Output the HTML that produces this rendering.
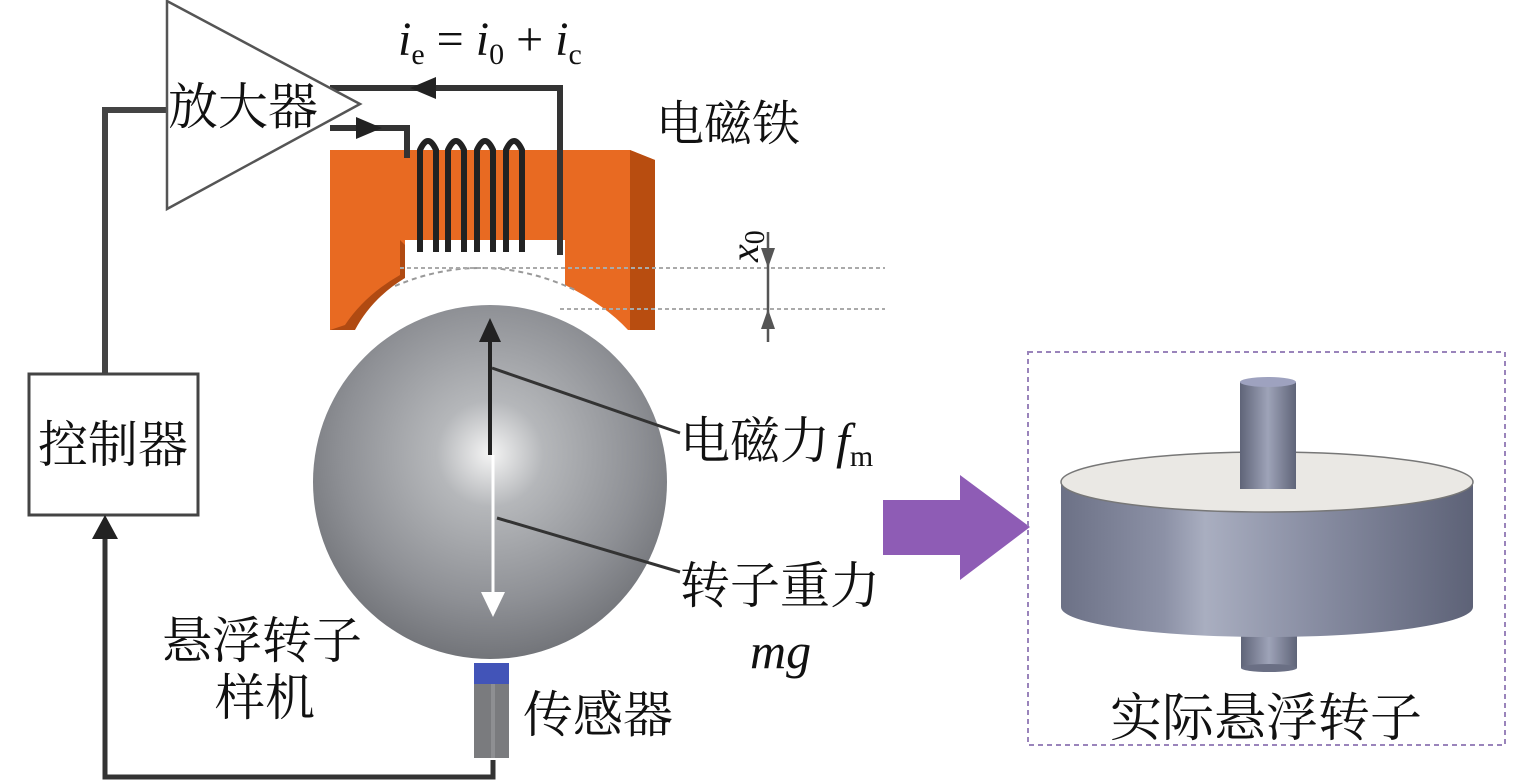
<!DOCTYPE html>
<html><head><meta charset="utf-8"><style>
html,body{margin:0;padding:0;background:#fff;}
svg{display:block;}
.cn{font-family:"Liberation Serif","Noto Serif CJK SC",serif;fill:#111;}
.it{font-family:"Liberation Serif",serif;font-style:italic;fill:#111;}
.rm{font-family:"Liberation Serif",serif;fill:#111;}
</style></head><body>
<svg width="1535" height="782" viewBox="0 0 1535 782" xmlns="http://www.w3.org/2000/svg">
<defs>
<radialGradient id="sph" cx="0.5" cy="0.42" r="0.6">
<stop offset="0" stop-color="#f4f4f4"/>
<stop offset="0.25" stop-color="#b5b7ba"/>
<stop offset="0.7" stop-color="#8e9095"/>
<stop offset="1" stop-color="#6f7176"/>
</radialGradient>
<linearGradient id="cyl" x1="0" x2="1" y1="0" y2="0">
<stop offset="0" stop-color="#6c7186"/>
<stop offset="0.25" stop-color="#8c91a6"/>
<stop offset="0.35" stop-color="#a9aec0"/>
<stop offset="0.6" stop-color="#8a8fa4"/>
<stop offset="1" stop-color="#5d6277"/>
</linearGradient>
<linearGradient id="shaft" x1="0" x2="1">
<stop offset="0" stop-color="#5f6478"/>
<stop offset="0.5" stop-color="#9ea3b8"/>
<stop offset="1" stop-color="#5f6478"/>
</linearGradient>
</defs>

<!-- controller loop wires -->
<polyline points="167,110 105,110 105,374" fill="none" stroke="#444" stroke-width="6"/>
<rect x="29" y="374" width="169" height="141" fill="#fff" stroke="#444" stroke-width="3"/>
<text x="113" y="462" class="cn" font-size="50" text-anchor="middle">控制器</text>
<polyline points="105,538 105,777 493,777 493,760" fill="none" stroke="#333" stroke-width="5"/>
<polygon points="105,515 92,539 118,539" fill="#222"/>

<!-- electromagnet -->
<path d="M330,150 L630,150 L655,160 L655,330 L330,330 Z" fill="#e86a22"/>
<path d="M630,150 L655,160 L655,330 L630,330 Z" fill="#b84d10"/>
<path d="M400,240 L400,275 Q365,295 345,325 L330,330 L355,330 Q370,300 410,280 L410,250 Z" fill="#b04a12"/>
<path d="M400,240 L565,240 L565,285 Q605,305 628,330 L355,330 Q372,298 405,278 L405,240 Z" fill="#fff"/>
<path d="M395,286 Q485,248 575,290" fill="none" stroke="#999" stroke-width="2" stroke-dasharray="5,4"/>
<line x1="400" y1="268" x2="885" y2="268" stroke="#aaa" stroke-width="2" stroke-dasharray="4,3"/>
<line x1="560" y1="309" x2="885" y2="309" stroke="#aaa" stroke-width="2" stroke-dasharray="4,3"/>

<!-- coils -->
<g fill="none" stroke="#222" stroke-width="6">
<path d="M420,252 L420,150 Q428,132 436,150 L436,252"/>
<path d="M448,252 L448,150 Q456,132 464,150 L464,252"/>
<path d="M477,252 L477,150 Q485,132 493,150 L493,252"/>
<path d="M506,252 L506,150 Q514,132 522,150 L522,252"/>
</g>
<polyline points="330,128 407,128 407,158" fill="none" stroke="#333" stroke-width="6"/>
<polygon points="382,128 356,117 356,139" fill="#222"/>
<polyline points="330,88 560,88 560,255" fill="none" stroke="#333" stroke-width="6"/>
<polygon points="410,88 436,77 436,99" fill="#222"/>

<!-- amplifier -->
<polygon points="167,1 167,209 360,104" fill="#fff" stroke="#555" stroke-width="2.5"/>
<text x="168" y="124" class="cn" font-size="50">放大器</text>

<text x="398" y="55" font-size="48"><tspan class="it">i</tspan><tspan class="rm" font-size="30" dy="9">e</tspan><tspan class="rm" dy="-9"> = </tspan><tspan class="it">i</tspan><tspan class="rm" font-size="30" dy="9">0</tspan><tspan class="rm" dy="-9"> + </tspan><tspan class="it">i</tspan><tspan class="rm" font-size="30" dy="9">c</tspan></text>
<text x="656" y="140" class="cn" font-size="48">电磁铁</text>

<!-- x0 -->
<text transform="translate(758,262) rotate(-90)" font-size="40"><tspan class="it">x</tspan><tspan class="rm" font-size="28" dy="6">0</tspan></text>
<line x1="768" y1="232" x2="768" y2="342" stroke="#555" stroke-width="2.5"/>
<polygon points="768,268 761,248 775,248" fill="#555"/>
<polygon points="768,309 761,329 775,329" fill="#555"/>

<!-- sphere -->
<circle cx="490" cy="482" r="177" fill="url(#sph)"/>
<line x1="490" y1="455" x2="490" y2="335" stroke="#222" stroke-width="4"/>
<polygon points="490,318 479,342 501,342" fill="#222"/>
<line x1="493" y1="455" x2="493" y2="598" stroke="#fff" stroke-width="3"/>
<polygon points="493,617 481,592 505,592" fill="#fff"/>
<line x1="492" y1="368" x2="680" y2="433" stroke="#333" stroke-width="3"/>
<line x1="497" y1="518" x2="680" y2="572" stroke="#333" stroke-width="3"/>

<text x="680" y="458" class="cn" font-size="50">电磁力</text>
<text x="836" y="458" font-size="50"><tspan class="it">f</tspan><tspan class="rm" font-size="30" dy="8">m</tspan></text>
<text x="680" y="603" class="cn" font-size="50">转子重力</text>
<text x="750" y="668" class="it" font-size="50">mg</text>

<text x="162" y="658" class="cn" font-size="50">悬浮转子</text>
<text x="215" y="715" class="cn" font-size="50">样机</text>

<!-- sensor -->
<rect x="474" y="663" width="35" height="95" fill="#7a7b7e"/>
<rect x="474" y="663" width="35" height="21" fill="#4254b8"/>
<rect x="491" y="684" width="4" height="74" fill="#8e8f92"/>
<text x="523" y="732" class="cn" font-size="50">传感器</text>

<!-- purple arrow -->
<polygon points="883,500 960,500 960,475 1030,527 960,580 960,555 883,555" fill="#8e5cb5"/>

<!-- right box -->
<rect x="1028" y="352" width="477" height="393" fill="none" stroke="#9a84bb" stroke-width="2" stroke-dasharray="5,4"/>
<rect x="1241" y="625" width="56" height="43" fill="url(#shaft)"/>
<ellipse cx="1269" cy="668" rx="28" ry="4" fill="#6a6f84"/>
<path d="M1061,482 L1473,482 L1473,607 A206,30 0 0 1 1061,607 Z" fill="url(#cyl)"/>
<ellipse cx="1267" cy="482" rx="206" ry="30" fill="#eae8e4" stroke="#777" stroke-width="1.5"/>
<rect x="1240" y="382" width="56" height="107" fill="url(#shaft)"/>
<ellipse cx="1268" cy="382" rx="28" ry="5" fill="#9ea2bf"/>
<text x="1266" y="736" class="cn" font-size="52" text-anchor="middle">实际悬浮转子</text>
</svg>
</body></html>
